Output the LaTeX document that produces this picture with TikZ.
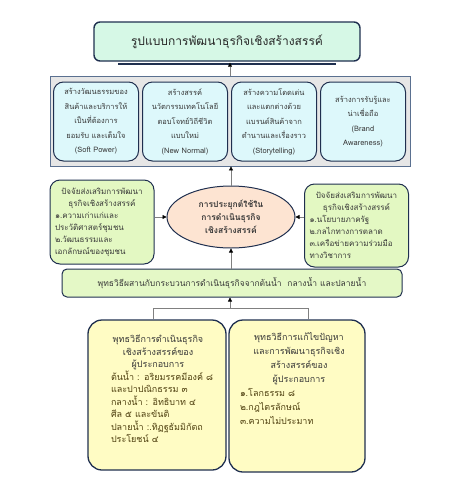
\documentclass[tikz,border=0pt]{standalone}
\usepackage{fontspec}
\setmainfont{Loma}[Script=Thai]
\usetikzlibrary{arrows.meta,shapes.geometric}
\definecolor{navy}{HTML}{1F2F4F}
\definecolor{mint}{HTML}{D6F8E6}
\definecolor{contf}{HTML}{E6E6E6}
\definecolor{contb}{HTML}{5A7090}
\definecolor{cyanf}{HTML}{DDF8FB}
\definecolor{limef}{HTML}{E3F8C2}
\definecolor{peach}{HTML}{FDE4D2}
\definecolor{bannf}{HTML}{E4F8C6}
\definecolor{yelf}{HTML}{FFFCC4}
\definecolor{txt}{HTML}{383838}
\definecolor{brn}{HTML}{4F4010}
\definecolor{connc}{HTML}{808080}
\begin{document}
\begin{tikzpicture}[x=1pt,y=-1pt,
  titlebox/.style={draw=navy,line width=1.4pt,rounded corners=6pt,fill=mint,minimum width=266pt,minimum height=39pt,font=\fontsize{12}{14}\selectfont,text=black!85},
  contbox/.style={draw=contb,line width=0.8pt,fill=contf,minimum width=360pt,minimum height=90pt},
  subbox/.style={draw=navy,line width=1pt,rounded corners=10pt,fill=cyanf,minimum width=85pt,minimum height=79pt,align=center,inner sep=1pt,font=\fontsize{7.5}{14.5}\selectfont,text=txt},
  greenbox/.style={draw=navy,line width=1pt,rounded corners=10pt,fill=limef,text width=94pt,align=left,inner xsep=5pt,font=\fontsize{8}{12}\selectfont,text=txt},
  ellbox/.style={ellipse,draw=navy,line width=1pt,fill=peach,minimum width=128pt,minimum height=62pt,inner sep=0pt,align=center,font=\bfseries\fontsize{8.5}{13}\selectfont,text=txt},
  bannbox/.style={draw=navy,line width=1pt,rounded corners=5pt,fill=bannf,minimum width=340pt,minimum height=28pt,font=\fontsize{8.5}{10}\selectfont,text=txt},
  yelbox/.style={draw=navy,line width=1.3pt,rounded corners=14pt,fill=yelf},
  yeltext/.style={anchor=north,align=left,font=\fontsize{9}{12.5}\selectfont,text=brn},
  arrowline/.style={draw=connc,line width=0.6pt,-{Triangle[length=4pt,width=4pt,color=black]}},
  plainline/.style={draw=connc,line width=0.6pt}
]
\useasboundingbox (0,0) rectangle (454,485);
\coordinate (ax) at (230,0);

% title
\node[titlebox] (title) at (227,41.5) {รูปแบบการพัฒนาธุรกิจเชิงสร้างสรรค์};
\draw[navy,line width=1.6pt] ([xshift=25pt,yshift=-2pt]title.south west) -- ([xshift=-25pt,yshift=-2pt]title.south east);

% container with four boxes
\node[contbox] (cont) at (230,121) {};
\node[subbox] (s1) at (96,121.5) {สร้างวัฒนธรรมของ\\สินค้าและบริการให้\\เป็นที่ต้องการ\\ยอมรับ และเต็มใจ\\(Soft Power)};
\node[subbox] (s2) at (185,121.5) {สร้างสรรค์\\นวัตกรรมเทคโนโลยี\\ตอบโจทย์วิถีชีวิต\\แบบใหม่\\(New Normal)};
\node[subbox] (s3) at (274,121.5) {สร้างความโดดเด่น\\และแตกต่างด้วย\\แบรนด์สินค้าจาก\\ตำนานและเรื่องราว\\(Storytelling)};
\node[subbox] (s4) at (363,121.5) {สร้างการรับรู้และ\\น่าเชื่อถือ\\(Brand\\Awareness)};

% ellipse and side boxes
\node[ellbox] (ell) at (231,217) {การประยุกต์ใช้ใน\\การดำเนินธุรกิจ\\เชิงสร้างสรรค์};
\node[greenbox,minimum height=84pt] (lg) at (102,222) {{\centering ปัจจัยส่งเสริมการพัฒนา\\ธุรกิจเชิงสร้างสรรค์\par}๑.ความเก่าแก่และ\\ประวัติศาสตร์ชุมชน\\๒.วัฒนธรรมและ\\เอกลักษณ์ของชุมชน};
\node[greenbox,minimum height=83pt] (rg) at (356.5,225.5) {{\centering ปัจจัยส่งเสริมการพัฒนา\\ธุรกิจเชิงสร้างสรรค์\par}๑.นโยบายภาครัฐ\\๒.กลไกทางการตลาด\\๓.เครือข่ายความร่วมมือ\\ทางวิชาการ};

% banner
\node[bannbox] (bann) at (232,283) {พุทธวิธีผสานกับกระบวนการดำเนินธุรกิจจากต้นน้ำ\ \ กลางน้ำ และปลายน้ำ};

% bottom boxes
\node[yelbox,minimum width=138pt,minimum height=150pt] (bl) at (157,395) {};
\node[yelbox,minimum width=136pt,minimum height=152pt] (br) at (297,396) {};
\node[yeltext,text width=104pt] (blt) at ([yshift=-12pt,xshift=6pt]bl.north) {{\centering\color{txt}\hspace*{-10pt}พุทธวิธีการดำเนินธุรกิจ\\\hspace*{-10pt}เชิงสร้างสรรค์ของ\\\hspace*{-10pt}ผู้ประกอบการ\par}ต้นน้ำ : อริยมรรคมีองค์ ๘\\และปาปณิกธรรม ๓\\กลางน้ำ : อิทธิบาท ๔\\ศีล ๕ และขันติ\\ปลายน้ำ :.ทิฏฐธัมมิกัตถ\\ประโยชน์ ๔};
\node[yeltext,text width=118pt,font=\fontsize{9}{14}\selectfont] (brt) at ([yshift=-10pt,xshift=2pt]br.north) {{\centering\color{txt}พุทธวิธีการแก้ไขปัญหา\\และการพัฒนาธุรกิจเชิง\\สร้างสรรค์ของ\\ผู้ประกอบการ\par}๑.โลกธรรม ๘\\๒.กฎไตรลักษณ์\\๓.ความไม่ประมาท};

% connectors
\draw[arrowline] (cont.north -| ax) -- ([yshift=-1pt]title.south -| ax);
\draw[arrowline] (ell.north) -- (cont.south -| ell.north);
\draw[arrowline] (bann.north -| ell.south) -- (ell.south);
\draw[arrowline] (lg.east |- ell.west) -- (ell.west);
\draw[arrowline] (rg.west |- ell.east) -- (ell.east);
\coordinate (j) at (230,308);
\draw[plainline] ([xshift=-4pt]bl.north) -- ([xshift=-4pt]bl.north |- j) -- ([xshift=11pt]br.north |- j) -- ([xshift=11pt]br.north);
\draw[arrowline] (j) -- (j |- bann.south);
\end{tikzpicture}
\end{document}
